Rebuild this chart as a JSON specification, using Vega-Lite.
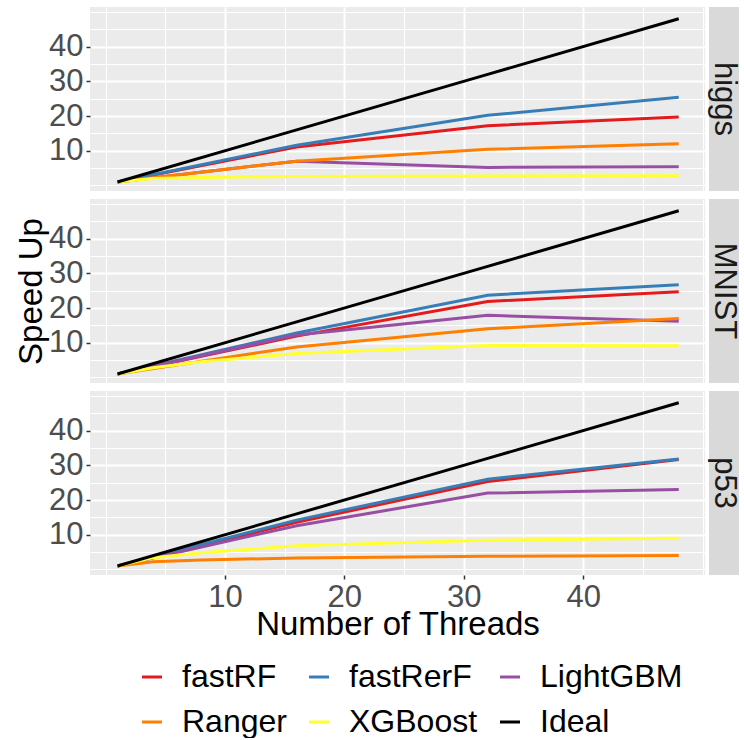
{
  "$schema": "https://vega.github.io/schema/vega-lite/v6.json",
  "background": "white",
  "padding": {"left": 15, "top": 7, "right": 4, "bottom": 0},
  "datasets": {
    "speed": [
      {"d":"higgs","m":"fastRF","t":1,"s":1},{"d":"higgs","m":"fastRF","t":16,"s":11.1},{"d":"higgs","m":"fastRF","t":32,"s":17.2},{"d":"higgs","m":"fastRF","t":48,"s":19.7},
      {"d":"higgs","m":"fastRerF","t":1,"s":1},{"d":"higgs","m":"fastRerF","t":16,"s":11.6},{"d":"higgs","m":"fastRerF","t":32,"s":20.2},{"d":"higgs","m":"fastRerF","t":48,"s":25.4},
      {"d":"higgs","m":"LightGBM","t":1,"s":1},{"d":"higgs","m":"LightGBM","t":16,"s":7.0},{"d":"higgs","m":"LightGBM","t":32,"s":5.2},{"d":"higgs","m":"LightGBM","t":48,"s":5.4},
      {"d":"higgs","m":"Ranger","t":1,"s":1},{"d":"higgs","m":"Ranger","t":16,"s":7.0},{"d":"higgs","m":"Ranger","t":32,"s":10.4},{"d":"higgs","m":"Ranger","t":48,"s":12.0},
      {"d":"higgs","m":"XGBoost","t":1,"s":1},{"d":"higgs","m":"XGBoost","t":4,"s":2.0},{"d":"higgs","m":"XGBoost","t":8,"s":2.3},{"d":"higgs","m":"XGBoost","t":16,"s":2.6},{"d":"higgs","m":"XGBoost","t":32,"s":2.7},{"d":"higgs","m":"XGBoost","t":48,"s":2.8},
      {"d":"higgs","m":"Ideal","t":1,"s":1},{"d":"higgs","m":"Ideal","t":16,"s":16},{"d":"higgs","m":"Ideal","t":32,"s":32},{"d":"higgs","m":"Ideal","t":48,"s":48},

      {"d":"MNIST","m":"fastRF","t":1,"s":1},{"d":"MNIST","m":"fastRF","t":16,"s":11.9},{"d":"MNIST","m":"fastRF","t":32,"s":21.9},{"d":"MNIST","m":"fastRF","t":48,"s":24.7},
      {"d":"MNIST","m":"fastRerF","t":1,"s":1},{"d":"MNIST","m":"fastRerF","t":16,"s":12.8},{"d":"MNIST","m":"fastRerF","t":32,"s":23.7},{"d":"MNIST","m":"fastRerF","t":48,"s":26.7},
      {"d":"MNIST","m":"LightGBM","t":1,"s":1},{"d":"MNIST","m":"LightGBM","t":16,"s":12.2},{"d":"MNIST","m":"LightGBM","t":32,"s":17.9},{"d":"MNIST","m":"LightGBM","t":48,"s":16.2},
      {"d":"MNIST","m":"Ranger","t":1,"s":1},{"d":"MNIST","m":"Ranger","t":16,"s":8.8},{"d":"MNIST","m":"Ranger","t":32,"s":14.0},{"d":"MNIST","m":"Ranger","t":48,"s":17.0},
      {"d":"MNIST","m":"XGBoost","t":1,"s":1},{"d":"MNIST","m":"XGBoost","t":4,"s":2.8},{"d":"MNIST","m":"XGBoost","t":8,"s":4.5},{"d":"MNIST","m":"XGBoost","t":16,"s":6.9},{"d":"MNIST","m":"XGBoost","t":32,"s":9.2},{"d":"MNIST","m":"XGBoost","t":48,"s":9.1},
      {"d":"MNIST","m":"Ideal","t":1,"s":1},{"d":"MNIST","m":"Ideal","t":16,"s":16},{"d":"MNIST","m":"Ideal","t":32,"s":32},{"d":"MNIST","m":"Ideal","t":48,"s":48},

      {"d":"p53","m":"fastRF","t":1,"s":1},{"d":"p53","m":"fastRF","t":16,"s":13.6},{"d":"p53","m":"fastRF","t":32,"s":25.3},{"d":"p53","m":"fastRF","t":48,"s":31.7},
      {"d":"p53","m":"fastRerF","t":1,"s":1},{"d":"p53","m":"fastRerF","t":16,"s":14.2},{"d":"p53","m":"fastRerF","t":32,"s":26.0},{"d":"p53","m":"fastRerF","t":48,"s":31.8},
      {"d":"p53","m":"LightGBM","t":1,"s":1},{"d":"p53","m":"LightGBM","t":16,"s":12.6},{"d":"p53","m":"LightGBM","t":32,"s":22.0},{"d":"p53","m":"LightGBM","t":48,"s":23.0},
      {"d":"p53","m":"Ranger","t":1,"s":1},{"d":"p53","m":"Ranger","t":4,"s":2.2},{"d":"p53","m":"Ranger","t":8,"s":2.7},{"d":"p53","m":"Ranger","t":16,"s":3.3},{"d":"p53","m":"Ranger","t":32,"s":3.8},{"d":"p53","m":"Ranger","t":48,"s":4.0},
      {"d":"p53","m":"XGBoost","t":1,"s":1},{"d":"p53","m":"XGBoost","t":4,"s":3.4},{"d":"p53","m":"XGBoost","t":8,"s":4.8},{"d":"p53","m":"XGBoost","t":16,"s":6.8},{"d":"p53","m":"XGBoost","t":32,"s":8.4},{"d":"p53","m":"XGBoost","t":48,"s":9.0},
      {"d":"p53","m":"Ideal","t":1,"s":1},{"d":"p53","m":"Ideal","t":16,"s":16},{"d":"p53","m":"Ideal","t":32,"s":32},{"d":"p53","m":"Ideal","t":48,"s":48}
    ],
    "strips": [{"d":"higgs"},{"d":"MNIST"},{"d":"p53"}]
  },
  "vconcat": [
    {
      "spacing": 4,
      "hconcat": [
        {
          "width": 615, "height": 184,
          "view": {"fill": "#EBEBEB", "stroke": null},
          "data": {"name": "speed"},
          "transform": [{"filter": "datum.d === 'higgs'"}],
          "mark": {"type": "line", "strokeWidth": 3},
          "encoding": {
            "x": {"field": "t", "type": "quantitative", "scale": {"domain": [-1.3, 50.2], "nice": false, "zero": false},
              "axis": {"values": [0,5,10,15,20,25,30,35,40,45,50], "labels": false, "ticks": false, "title": null,
                "gridWidth": {"condition": {"test": "datum.value % 10 === 0 && datum.value > 0 && datum.value < 50", "value": 2}, "value": 1}}},
            "y": {"field": "s", "type": "quantitative", "scale": {"domain": [-1.6, 51.4], "nice": false, "zero": false},
              "axis": {"values": [0,5,10,15,20,25,30,35,40,45,50], "title": null,
                "labelExpr": "datum.value % 10 === 0 && datum.value > 0 && datum.value < 50 ? datum.label : ''",
                "labelFontSize": {"condition": {"test": "datum.value % 10 === 0 && datum.value > 0 && datum.value < 50", "value": 31}, "value": 1},
                "tickOpacity": {"condition": {"test": "datum.value % 10 === 0 && datum.value > 0 && datum.value < 50", "value": 1}, "value": 0},
                "gridWidth": {"condition": {"test": "datum.value % 10 === 0 && datum.value > 0 && datum.value < 50", "value": 2}, "value": 1}}},
            "color": {"field": "m", "type": "nominal",
              "scale": {"domain": ["fastRF","fastRerF","LightGBM","Ranger","XGBoost","Ideal"], "range": ["#E41A1C","#377EB8","#984EA3","#FF7F00","#FFFF33","#000000"]},
              "legend": {"title": null, "orient": "none", "legendX": 46, "legendY": 654, "direction": "horizontal", "columns": 3, "symbolType": "stroke", "symbolSize": 400, "symbolStrokeWidth": 3, "labelFontSize": 32, "labelColor": "black", "labelOffset": 14, "columnPadding": 16, "rowPadding": 13, "gridAlign": "each", "padding": 0, "labelLimit": 300}}
          }
        },
        {
          "width": 30, "height": 184,
          "view": {"fill": "#D9D9D9", "stroke": null},
          "data": {"name": "strips"},
          "transform": [{"filter": "datum.d === 'higgs'"}],
          "mark": {"type": "text", "angle": 90, "fontSize": 31, "color": "#1A1A1A", "align": "center", "baseline": "middle"},
          "encoding": {"text": {"field": "d"}}
        }
      ]
    },
    {
      "spacing": 4,
      "hconcat": [
        {
          "width": 615, "height": 184,
          "view": {"fill": "#EBEBEB", "stroke": null},
          "data": {"name": "speed"},
          "transform": [{"filter": "datum.d === 'MNIST'"}],
          "mark": {"type": "line", "strokeWidth": 3},
          "encoding": {
            "x": {"field": "t", "type": "quantitative", "scale": {"domain": [-1.3, 50.2], "nice": false, "zero": false},
              "axis": {"values": [0,5,10,15,20,25,30,35,40,45,50], "labels": false, "ticks": false, "title": null,
                "gridWidth": {"condition": {"test": "datum.value % 10 === 0 && datum.value > 0 && datum.value < 50", "value": 2}, "value": 1}}},
            "y": {"field": "s", "type": "quantitative", "scale": {"domain": [-1.6, 51.4], "nice": false, "zero": false},
              "axis": {"values": [0,5,10,15,20,25,30,35,40,45,50], "title": "Speed Up",
                "labelExpr": "datum.value % 10 === 0 && datum.value > 0 && datum.value < 50 ? datum.label : ''",
                "labelFontSize": {"condition": {"test": "datum.value % 10 === 0 && datum.value > 0 && datum.value < 50", "value": 31}, "value": 1},
                "tickOpacity": {"condition": {"test": "datum.value % 10 === 0 && datum.value > 0 && datum.value < 50", "value": 1}, "value": 0},
                "gridWidth": {"condition": {"test": "datum.value % 10 === 0 && datum.value > 0 && datum.value < 50", "value": 2}, "value": 1}}},
            "color": {"field": "m", "type": "nominal",
              "scale": {"domain": ["fastRF","fastRerF","LightGBM","Ranger","XGBoost","Ideal"], "range": ["#E41A1C","#377EB8","#984EA3","#FF7F00","#FFFF33","#000000"]},
              "legend": {"title": null, "orient": "none", "legendX": 46, "legendY": 654, "direction": "horizontal", "columns": 3, "symbolType": "stroke", "symbolSize": 400, "symbolStrokeWidth": 3, "labelFontSize": 32, "labelColor": "black", "labelOffset": 14, "columnPadding": 16, "rowPadding": 13, "gridAlign": "each", "padding": 0, "labelLimit": 300}}
          }
        },
        {
          "width": 30, "height": 184,
          "view": {"fill": "#D9D9D9", "stroke": null},
          "data": {"name": "strips"},
          "transform": [{"filter": "datum.d === 'MNIST'"}],
          "mark": {"type": "text", "angle": 90, "fontSize": 31, "color": "#1A1A1A", "align": "center", "baseline": "middle"},
          "encoding": {"text": {"field": "d"}}
        }
      ]
    },
    {
      "spacing": 4,
      "hconcat": [
        {
          "width": 615, "height": 184,
          "view": {"fill": "#EBEBEB", "stroke": null},
          "data": {"name": "speed"},
          "transform": [{"filter": "datum.d === 'p53'"}],
          "mark": {"type": "line", "strokeWidth": 3},
          "encoding": {
            "x": {"field": "t", "type": "quantitative", "scale": {"domain": [-1.3, 50.2], "nice": false, "zero": false},
              "axis": {"values": [0,5,10,15,20,25,30,35,40,45,50], "title": "Number of Threads", "titlePadding": -4,
                "labelExpr": "datum.value % 10 === 0 && datum.value > 0 && datum.value < 50 ? datum.label : ''",
                "labelFontSize": {"condition": {"test": "datum.value % 10 === 0 && datum.value > 0 && datum.value < 50", "value": 31}, "value": 1},
                "tickOpacity": {"condition": {"test": "datum.value % 10 === 0 && datum.value > 0 && datum.value < 50", "value": 1}, "value": 0},
                "gridWidth": {"condition": {"test": "datum.value % 10 === 0 && datum.value > 0 && datum.value < 50", "value": 2}, "value": 1}}},
            "y": {"field": "s", "type": "quantitative", "scale": {"domain": [-1.6, 51.4], "nice": false, "zero": false},
              "axis": {"values": [0,5,10,15,20,25,30,35,40,45,50], "title": null,
                "labelExpr": "datum.value % 10 === 0 && datum.value > 0 && datum.value < 50 ? datum.label : ''",
                "labelFontSize": {"condition": {"test": "datum.value % 10 === 0 && datum.value > 0 && datum.value < 50", "value": 31}, "value": 1},
                "tickOpacity": {"condition": {"test": "datum.value % 10 === 0 && datum.value > 0 && datum.value < 50", "value": 1}, "value": 0},
                "gridWidth": {"condition": {"test": "datum.value % 10 === 0 && datum.value > 0 && datum.value < 50", "value": 2}, "value": 1}}},
            "color": {"field": "m", "type": "nominal",
              "scale": {"domain": ["fastRF","fastRerF","LightGBM","Ranger","XGBoost","Ideal"], "range": ["#E41A1C","#377EB8","#984EA3","#FF7F00","#FFFF33","#000000"]},
              "legend": {"title": null, "orient": "none", "legendX": 46, "legendY": 654, "direction": "horizontal", "columns": 3, "symbolType": "stroke", "symbolSize": 400, "symbolStrokeWidth": 3, "labelFontSize": 32, "labelColor": "black", "labelOffset": 14, "columnPadding": 16, "rowPadding": 13, "gridAlign": "each", "padding": 0, "labelLimit": 300}}
          }
        },
        {
          "width": 30, "height": 184,
          "view": {"fill": "#D9D9D9", "stroke": null},
          "data": {"name": "strips"},
          "transform": [{"filter": "datum.d === 'p53'"}],
          "mark": {"type": "text", "angle": 90, "fontSize": 31, "color": "#1A1A1A", "align": "center", "baseline": "middle"},
          "encoding": {"text": {"field": "d"}}
        }
      ]
    }
  ],
  "spacing": 8,
  "resolve": {"scale": {"color": "shared"}},
  "config": {
    "font": "Liberation Sans",
    "axis": {
      "domain": false, "gridColor": "#FFFFFF", "tickColor": "#333333", "tickSize": 4, "tickWidth": 1.5,
      "labelFontSize": 31, "labelColor": "#4D4D4D", "labelPadding": 3, "labelOverlap": false, "labelFlush": false,
      "titleFontSize": 33, "titleColor": "#000000", "titleFontWeight": "normal", "titlePadding": 0
    },
    "legend": {"labelFont": "Liberation Sans"}
  }
}
